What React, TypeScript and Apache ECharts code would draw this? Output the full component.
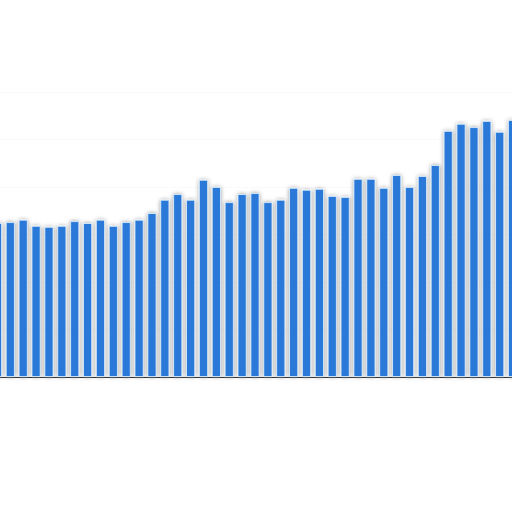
import { useEffect, useRef } from 'react';
import * as echarts from 'echarts';

// 类目（无标签，只用于定位）
const categories: string[] = Array.from({ length: 41 }, (_, i) => `P${i + 1}`);

// 柱高（按图片读数估计）
const values: number[] = [
  32.4, 32.6, 33.1, 31.8, 31.6, 31.8, 32.8, 32.4, 33.1, 31.8,
  32.6, 33.1, 34.5, 37.3, 38.5, 37.3, 41.5, 40.0, 36.8, 38.5,
  38.7, 36.8, 37.3, 39.8, 39.4, 39.6, 38.1, 37.9, 41.7, 41.7,
  39.8, 42.5, 40.0, 42.3, 44.6, 51.8, 53.3, 52.6, 53.9, 51.6,
  54.1,
];

const yMin = 0;
const yMax = 60;
const yInterval = 10;

const App: React.FC = () => {
  const chartRef = useRef<HTMLDivElement>(null);

  useEffect(() => {
    if (!chartRef.current) return;
    document.body.style.overflow = 'hidden';
    const chart = echarts.init(chartRef.current, undefined, { renderer: 'svg' });

    chart.setOption({
      animation: false,
      backgroundColor: '#ffffff',
      grid: {
        left: 0,
        right: 0,
        top: 92,
        bottom: 135,
        containLabel: false,
      },
      xAxis: {
        type: 'category',
        data: categories,
        boundaryGap: true,
        axisLine: { show: true, lineStyle: { color: '#3a3a3a', width: 1 } },
        axisTick: { show: false },
        axisLabel: { show: false },
      },
      yAxis: {
        type: 'value',
        min: yMin,
        max: yMax,
        interval: yInterval,
        axisLine: { show: false },
        axisTick: { show: false },
        axisLabel: { show: false },
        splitLine: {
          show: true,
          lineStyle: { color: '#f4f4f4', type: 'dotted', width: 1 },
        },
      },
      series: [
        {
          type: 'bar',
          data: values,
          barCategoryGap: '30%',
          itemStyle: {
            color: '#2b79d9',
            borderColor: '#dff3ff',
            borderWidth: 0.8,
            shadowBlur: 4,
            shadowColor: 'rgba(0, 0, 0, 0.4)',
          },
        },
      ],
    });

    return () => {
      chart.dispose();
    };
  }, []);

  return (
    <div
      ref={chartRef}
      style={{
        position: 'fixed',
        left: '-9px',
        top: 0,
        width: '528px',
        height: '512px',
      }}
    />
  );
};

export default App;
